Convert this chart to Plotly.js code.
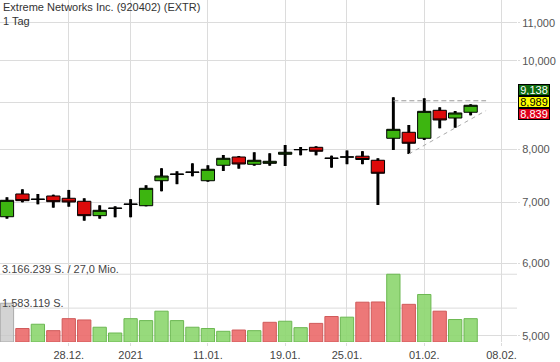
<!DOCTYPE html>
<html><head><meta charset="utf-8">
<script src="https://cdn.plot.ly/plotly-3.0.1.min.js"></script>
<style>html,body{margin:0;padding:0;background:#fff}#chart{width:560px;height:362px}</style>
</head><body><div id="chart"></div>
<script>
// ---- data ----
const dates = ['21.12.','22.12.','23.12.','24.12.','28.12.','29.12.','30.12.','31.12.','04.01.','05.01.','06.01.','07.01.','08.01.','11.01.','12.01.','13.01.','14.01.','15.01.','19.01.','20.01.','21.01.','22.01.','25.01.','26.01.','27.01.','28.01.','29.01.','01.02.','02.02.','03.02.','04.02.'];
const futureDates = ['05.02.','08.02.'];
const open  = [6750,7148,7050,7112,7071,7018,6768,6893,6962,6940,7391,7510,7548,7391,7684,7846,7703,7722,7900,7990,8040,7818,7843,7862,7782,8225,8350,8225,8826,8656,8782];
const high  = [7089,7233,7148,7135,7221,7071,6947,6930,7054,7307,7627,7569,7722,7684,7886,7866,7940,7920,8087,8046,8061,7872,7976,7962,7821,9120,8505,9097,8893,8810,8960];
const low   = [6717,7000,6965,6906,6923,6683,6717,6741,6741,6930,7197,7327,7474,7373,7575,7619,7676,7676,7670,7880,7880,7638,7705,7705,6953,7986,7906,8190,8435,8447,8715];
const close = [7035,7029,7055,7011,7005,6768,6860,6897,6968,7251,7479,7515,7553,7607,7821,7709,7782,7762,7940,7995,7960,7823,7848,7797,7531,8413,8122,8803,8613,8766,8938];
const volume = [1810000,630000,830000,530000,1090000,1030000,690000,420000,1090000,1000000,1440000,1000000,690000,630000,500000,560000,530000,920000,970000,670000,870000,1190000,1160000,1860000,1870000,3166239,1760000,2220000,1440000,1050000,1090000];
const tickDates  = ['28.12.','04.01.','11.01.','19.01.','25.01.','01.02.','08.02.'];
const tickLabels = ['28.12.','2021','11.01.','19.01.','25.01.','01.02.','08.02.'];
const priceTicks = [5000,6000,7000,8000,9000,10000,11000];
const priceTickLabels = ['5,000','6,000','7,000','8,000','','10,000','11,000'];
const upperTrendDates = ['28.01.','05.02.'];
const upperTrendValues = [9040,9040];
const lowerTrendDates = ['29.01.','05.02.'];
const lowerTrendValues = [7906,8820];
const tagTexts = ['9,138','8,989','8,839'];
const titleLine1 = 'Extreme Networks Inc. (920402) (EXTR)';
const titleLine2 = '1 Tag';
const volMaxLabel = '3.166.239 S. / 27,0 Mio.';
const volHalfLabel = '1.583.119 S.';
const volMax = 3166239;
const volHalf = 1583119;

// ---- derived ----
const wickLen = high.map((h,i)=>h-low[i]);
const volColors = close.map((c,i)=> i===0 ? 'rgba(200,200,200,0.8)' : (c>=close[i-1] ? 'rgba(140,214,110,0.9)' : 'rgba(235,105,105,0.9)'));
const volLines = close.map((c,i)=> i===0 ? '#aaaaaa' : (c>=close[i-1] ? '#6cb852' : '#d05a5a'));

const FONT = 'Liberation Sans, Arial, sans-serif';
const traces = [
  {type:'bar', x:dates, y:volume, xaxis:'x', yaxis:'y2', width:0.86,
   marker:{color:volColors, line:{color:volLines, width:1}}, hoverinfo:'skip', showlegend:false},
  {type:'bar', x:dates, base:low, y:wickLen, xaxis:'x', yaxis:'y', width:0.19,
   marker:{color:'#000', line:{width:0}}, hoverinfo:'skip', showlegend:false},
  {type:'candlestick', x:dates, open:open, high:high, low:low, close:close, xaxis:'x', yaxis:'y',
   increasing:{line:{color:'#000', width:1}, fillcolor:'#3db510'},
   decreasing:{line:{color:'#000', width:1}, fillcolor:'#dd0a0a'},
   whiskerwidth:0, hoverinfo:'skip', showlegend:false},
  {type:'scatter', mode:'lines', x:upperTrendDates, y:upperTrendValues, xaxis:'x', yaxis:'y',
   line:{color:'#999', width:1, dash:'5px,3px'}, hoverinfo:'skip', showlegend:false},
  {type:'scatter', mode:'lines', x:lowerTrendDates, y:lowerTrendValues, xaxis:'x', yaxis:'y',
   line:{color:'#aaa', width:1, dash:'4px,4px'}, hoverinfo:'skip', showlegend:false}
];

const W = 517, H = 342;
const py = px => (H - px)/H;
const tagStyle = [
  {bg:'#0f6b0f', fc:'#fff'},
  {bg:'#ffff00', fc:'#000'},
  {bg:'#e0001a', fc:'#fff'}
];
const tagY = [90, 102, 114];
const annotations = [
  {text:titleLine1 + '<br>' + titleLine2, xref:'paper', yref:'paper', x:2/W, y:py(0), xanchor:'left', yanchor:'top', align:'left',
   showarrow:false, font:{family:FONT, size:11, color:'#333'}, borderpad:0},
  {text:volMaxLabel, xref:'paper', yref:'paper', x:1/W, y:py(269), xanchor:'left', yanchor:'middle', showarrow:false, font:{family:FONT, size:11, color:'#444'}, borderpad:0},
  {text:volHalfLabel, xref:'paper', yref:'paper', x:1/W, y:py(302.5), xanchor:'left', yanchor:'middle', showarrow:false, font:{family:FONT, size:11, color:'#444'}, borderpad:0}
];
tagTexts.forEach((t,i)=>{
  annotations.push({text:t, xref:'paper', yref:'paper', x:518/W, y:py(tagY[i]), xanchor:'left', yanchor:'middle',
    showarrow:false, bgcolor:tagStyle[i].bg, bordercolor:'#000', borderwidth:1, borderpad:0,
    width:30, height:10, font:{family:FONT, size:11, color:tagStyle[i].fc}});
});

const layout = {
  width:560, height:362,
  margin:{l:0, r:560-W, t:0, b:362-H, pad:0},
  paper_bgcolor:'#fff', plot_bgcolor:'#fff',
  showlegend:false, barmode:'overlay', boxgap:0.14, boxgroupgap:0,
  font:{family:FONT, size:11, color:'#444'},
  xaxis:{type:'category', categoryorder:'array', categoryarray:dates.concat(futureDates),
    range:[-0.45, 33.0], tickvals:tickDates, ticktext:tickLabels,
    showgrid:true, gridcolor:'#dcdcdc', gridwidth:1, ticks:'outside', ticklen:3, tickcolor:'#dcdcdc',
    showline:false, zeroline:false, rangeslider:{visible:false},
    tickfont:{family:FONT, size:11, color:'#444'}, fixedrange:true},
  yaxis:{type:'log', range:[Math.log10(4923), Math.log10(11653)], side:'right',
    tickvals:priceTicks, ticktext:priceTickLabels,
    showgrid:true, gridcolor:'#dcdcdc', gridwidth:1, ticks:'outside', ticklen:2, tickcolor:'#dcdcdc',
    showline:false, zeroline:false, tickfont:{family:FONT, size:11, color:'#555'}, fixedrange:true},
  yaxis2:{overlaying:'y', range:[0, 15.98e6], visible:false, showgrid:false, zeroline:false, fixedrange:true},
  shapes:[
    {type:'line', xref:'paper', yref:'y2', x0:0, x1:1, y0:volMax, y1:volMax, line:{color:'#dcdcdc', width:1}, layer:'below'},
    {type:'line', xref:'paper', yref:'y2', x0:0, x1:1, y0:volHalf, y1:volHalf, line:{color:'#dcdcdc', width:1}, layer:'below'}
  ],
  annotations:annotations
};
Plotly.newPlot('chart', traces, layout, {staticPlot:true, displayModeBar:false});
</script></body></html>
